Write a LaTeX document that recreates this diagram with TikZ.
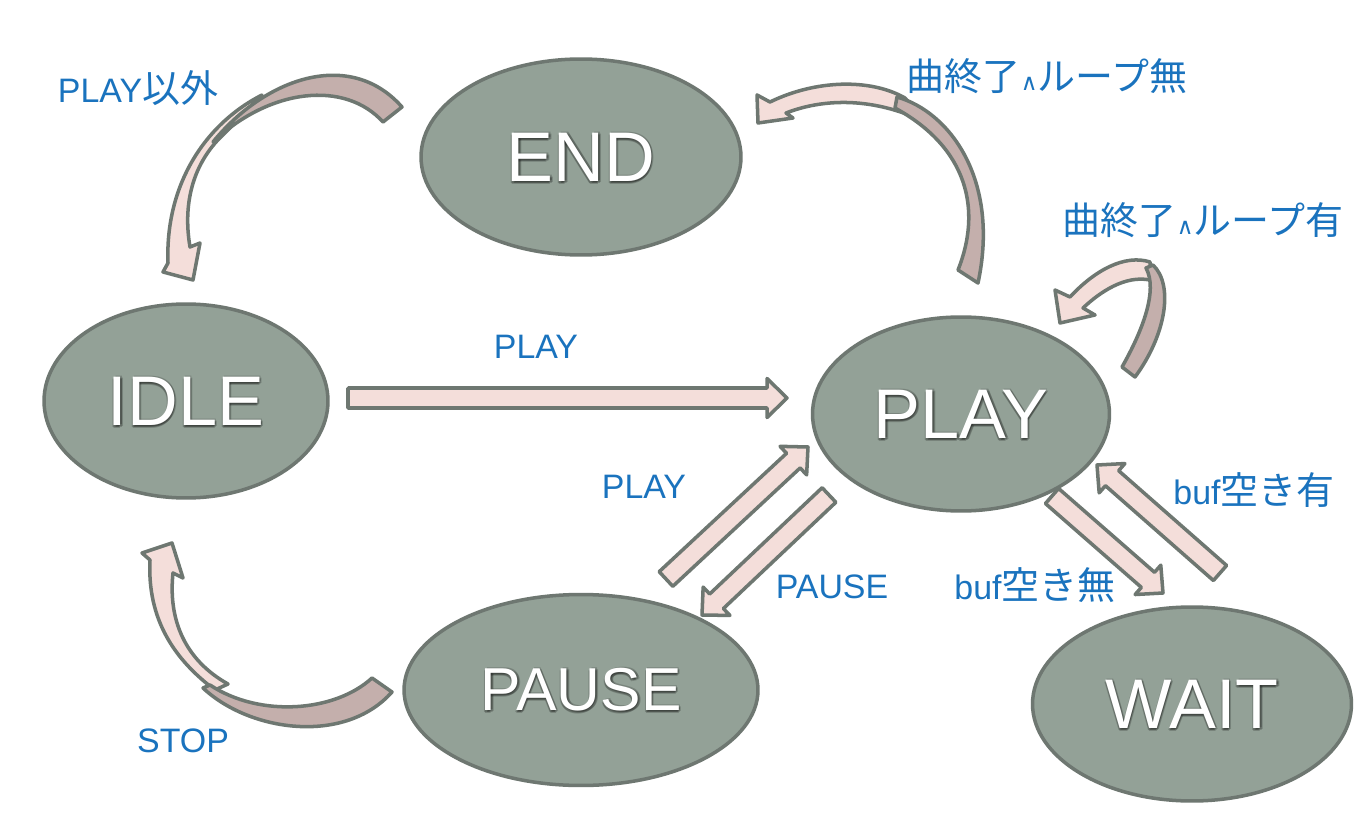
\documentclass[tikz,border=0pt]{standalone}
\usepackage{fontspec}
\setmainfont{Liberation Sans}
\newfontfamily\cjk[Scale=1.12]{Noto Sans CJK JP}
\newfontfamily\djv{DejaVu Sans}
\usetikzlibrary{shapes.geometric,calc}
\definecolor{efill}{RGB}{147,161,151}
\definecolor{edgec}{RGB}{110,119,113}
\definecolor{pinkf}{RGB}{244,222,218}
\definecolor{darkf}{RGB}{196,175,172}
\definecolor{lblue}{RGB}{26,115,190}
\tikzset{
  state/.style={ellipse, draw=edgec, fill=efill, line width=2pt, inner sep=0pt},
  stxt/.style={text=white, inner sep=0pt},
  sshadow/.style={text=black, opacity=0.18, inner sep=0pt},
  ribbon/.style={draw=edgec, fill=pinkf, line width=2pt, line join=round},
  ribbonback/.style={draw=edgec, fill=darkf, line width=2pt, line join=round},
  lbl/.style={text=lblue, font=\fontsize{19.3}{20}\selectfont, inner sep=0pt},
}
\newcommand{\wedgesym}{{\djv\fontsize{13}{13}\selectfont ∧}}
\newcommand{\blockarr}[2]{%
  \coordinate (hb) at ($(#2)!0.4cm!(#1)$);
  \path[ribbon] ($(#1)!0.2cm!90:(#2)$) -- ($(hb)!0.2cm!90:(#2)$) -- ($(hb)!0.39cm!90:(#2)$) -- (#2)
    -- ($(hb)!0.39cm!-90:(#2)$) -- ($(hb)!0.2cm!-90:(#2)$) -- ($(#1)!0.2cm!-90:(#2)$) -- cycle;
}
\newcommand{\statetext}[3]{%
  \foreach \dx/\dy in {1.5/2, -1/2, 1.5/-1, 0/3, 2.5/1}
    \node[sshadow, font=#3] at ($(#1)+(\dx,\dy)$) {#2};
  \node[stxt, font=#3] at (#1) {#2};
}
\begin{document}
\begin{tikzpicture}[x=0.02cm, y=-0.02cm]
\useasboundingbox (0,0) rectangle (1362,834);
\fill[white] (0,0) rectangle (1362,834);

% states
\node[state, minimum width=6.4cm, minimum height=3.92cm] (end) at (581,157) {};
\node[state, minimum width=5.68cm, minimum height=3.88cm] (idle) at (186,401) {};
\node[state, minimum width=5.94cm, minimum height=3.88cm] (play) at (961,414) {};
\node[state, minimum width=7.08cm, minimum height=3.82cm] (pause) at (581,690) {};
\node[state, minimum width=6.38cm, minimum height=3.88cm] (wait) at (1192,704) {};

\statetext{end}{END}{\fontsize{40}{40}\selectfont}
\statetext{idle}{IDLE}{\fontsize{40}{40}\selectfont}
\statetext{play}{PLAY}{\fontsize{40}{40}\selectfont}
\statetext{pause}{PAUSE}{\fontsize{34.5}{35}\selectfont}
\statetext{wait}{WAIT}{\fontsize{40}{40}\selectfont}

% straight block arrows
\coordinate (a1t) at (348,398);  \coordinate (a1h) at (787,398);
\coordinate (a2t) at (666,579);  \coordinate (a2h) at (808,447);
\coordinate (a3t) at (829,495);  \coordinate (a3h) at (702,615);
\coordinate (a4t) at (1052,496); \coordinate (a4h) at (1163,593);
\coordinate (a5t) at (1220,573); \coordinate (a5h) at (1097,465);
\blockarr{a1t}{a1h}
\blockarr{a2t}{a2h}
\blockarr{a3t}{a3h}
\blockarr{a4t}{a4h}
\blockarr{a5t}{a5h}

% curved arrow END -> IDLE
\path[ribbon] (262,95) .. controls (205,124) and (165,185) .. (168,263) -- (163,272) -- (193,280) -- (200,243) -- (190,247)
  .. controls (182,200) and (195,160) .. (225,133) -- cycle;
\path[ribbonback] (383,122) .. controls (345,80) and (270,88) .. (213,142)
  .. controls (265,78) and (350,48) .. (402,107) -- cycle;

% curved arrow PLAY -> END
\path[ribbon] (905,98) .. controls (870,78) and (815,80) .. (770,102) -- (757,95) -- (758,123) -- (793,118) -- (786,113)
  .. controls (830,96) and (880,100) .. (925,122) -- cycle;
\path[ribbonback] (958,270) .. controls (982,210) and (968,148) .. (895,108)
  -- (897,97) .. controls (950,112) and (1000,180) .. (978,283) -- cycle;

% self loop PLAY
\path[ribbon] (1150,262) .. controls (1125,254) and (1095,270) .. (1070,297) -- (1055,290) -- (1060,323) -- (1095,315) -- (1083,308)
  .. controls (1100,292) and (1125,275) .. (1150,280) -- cycle;
\path[ribbonback] (1122,367) .. controls (1143,330) and (1158,290) .. (1146,268)
  -- (1153,265) .. controls (1174,285) and (1166,335) .. (1135,377) -- cycle;

% curved arrow PAUSE -> IDLE
\path[ribbon] (215,690) .. controls (175,660) and (147,620) .. (150,560) -- (142,553) -- (172,543) -- (183,578) -- (173,573)
  .. controls (168,620) and (185,660) .. (228,684) -- cycle;
\path[ribbonback] (372,678) .. controls (335,712) and (260,718) .. (210,685)
  -- (203,688) .. controls (250,732) and (345,745) .. (392,692) -- cycle;

% labels
\node[lbl] (l1) at (138,88) {PLAY{\cjk 以外}};
\node[lbl] (l2) at (1047,76) {{\cjk 曲終了}\wedgesym{\cjk ループ無}};
\node[lbl] (l3) at (1203,220) {{\cjk 曲終了}\wedgesym{\cjk ループ有}};
\node[lbl] (l4) at (536,347) {PLAY};
\node[lbl] (l5) at (644,487) {PLAY};
\node[lbl] (l6) at (832,587) {PAUSE};
\node[lbl] (l7) at (1254,490) {buf{\cjk 空き有}};
\node[lbl] (l8) at (1035,585) {buf{\cjk 空き無}};
\node[lbl] (l9) at (183,741) {STOP};
\end{tikzpicture}
\end{document}
